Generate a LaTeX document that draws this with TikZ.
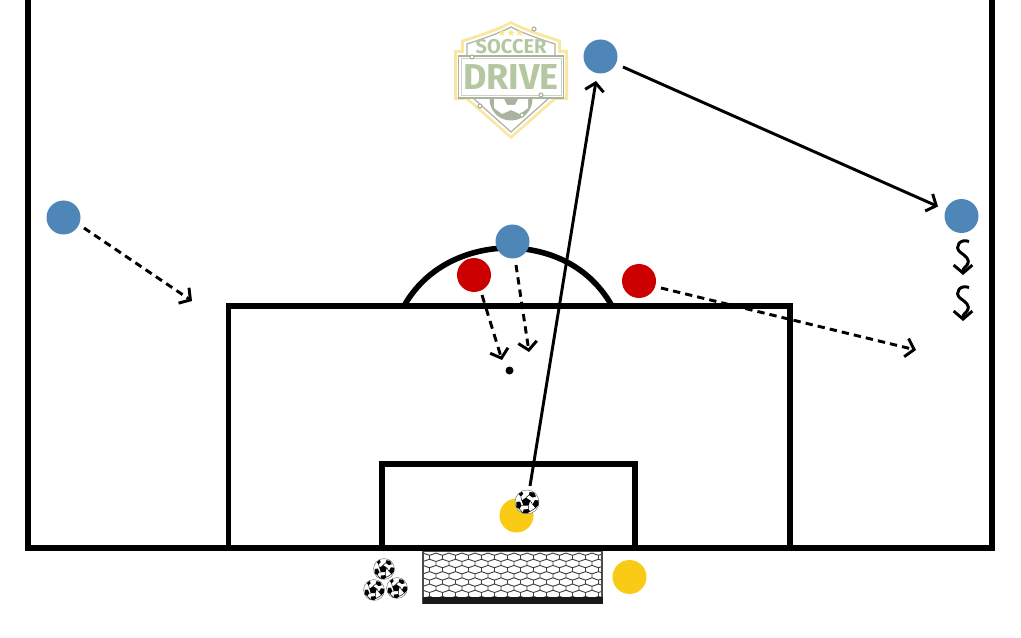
\documentclass[tikz,border=0pt]{standalone}
\usepackage{fontspec}
\setmainfont{Fira Sans}
\usetikzlibrary{arrows.meta,calc}
\definecolor{pblue}{HTML}{4F86B8}
\definecolor{pred}{HTML}{CC0000}
\definecolor{pyel}{HTML}{FACB14}
\definecolor{lgreen}{HTML}{B4C7A0}
\definecolor{lgrey}{HTML}{A9B3A0}
\definecolor{lyel}{HTML}{F9E7A0}
\tikzset{
 x=0.75pt,y=-0.75pt,
 player/.style={circle,minimum size=25.5pt,inner sep=0pt,fill=#1},
 pitch/.style={draw=black,line width=4.2pt,miter limit=10},
 run/.style={line width=2.2pt,-{Straight Barb[length=6pt,width=14pt,line width=2.2pt]}},
 runb/.style={run,dash pattern=on 5.5pt off 3.8pt},
 ballpic/.pic={
   \fill[white,draw=black!55,line width=0.35pt] (0,0) circle (12);
   \fill[black] (-1,-4.5) -- (3.3,-1.4) -- (1.6,3.6) -- (-3.6,3.6) -- (-5.3,-1.4) -- cycle;
   \fill[black] (2.5,-10) -- (7,-9.5) -- (9,-5.5) -- (5.5,-4.5) -- (2,-7) -- cycle;
   \fill[black] (-10.5,0) -- (-7,-0.5) -- (-5.5,3.5) -- (-7.5,7) -- (-10.8,5) -- cycle;
   \fill[black] (8,-2) -- (11.5,-1.5) -- (11.5,3) -- (8.5,6) -- (5.5,2.5) -- cycle;
   \fill[black] (-3.5,7.5) -- (1.5,7) -- (3,9.5) -- (0,11.5) -- (-4,11) -- cycle;
   \fill[black] (-8.5,-8) -- (-5,-10.3) -- (-3.8,-8) -- (-6.2,-5.5) -- cycle;
   \draw[black,line width=0.35pt] (-1,-4.5) -- (2,-7) (3.3,-1.4) -- (5.5,2.5) (1.6,3.6) -- (1.5,7) (-3.6,3.6) -- (-5.5,3.5) (-5.3,-1.4) -- (-6.2,-5.5) (8.5,6) -- (3,9.5) (-7.5,7) -- (-4,11);
 }
}
\begin{document}
\begin{tikzpicture}
\useasboundingbox (0,0) rectangle (1021,638);
% net
\begin{scope}
\clip (423,551) rectangle (602,600);
\draw[draw=black!75,line width=0.7pt]
 \foreach \r in {0,...,8}{ \foreach \c in {-1,...,14}{
   \pgfextra{\pgfmathsetmacro{\xx}{423+13*\c+mod(\r,2)*6.5}\pgfmathsetmacro{\yy}{553+6.2*\r}}
   (\xx,\yy) -- (\xx+3.2,\yy+1.2) -- (\xx+6.5,\yy+1.2+1.1)
   (\xx+6.5,\yy+2.3) -- (\xx+9.8,\yy+1.2) -- (\xx+13,\yy)
   (\xx+6.5,\yy+2.3) -- (\xx+6.5,\yy+6.2)
 }};
\end{scope}
\draw[black!70,line width=0.9pt] (423,551) rectangle (602,603);
\fill[black!90!white] (422.5,597) rectangle (602.5,604);
% logo
\fill[lyel] (511,139) -- (470,103) -- (466,100) -- (454,100) -- (454,50) -- (461,50) -- (461,40) .. controls (478,35) and (498,28) .. (511,21) .. controls (524,28) and (545,35) .. (561,40) -- (561,50) -- (568,50) -- (568,100) -- (556,100) -- (552,103) -- cycle;
\fill[white] (511,135.5) -- (472,101) -- (468,97.5) -- (457,97.5) -- (457,53) -- (464,53) -- (464,42) .. controls (480,37) and (499,31) .. (511,24) .. controls (523,31) and (542,37) .. (558,42) -- (558,53) -- (565,53) -- (565,97.5) -- (554,97.5) -- (550,101) -- cycle;
\draw[lgrey,line width=0.9pt,fill=white] (511,132) -- (473,98) -- (467,54) -- (467,44) .. controls (482,39) and (500,33) .. (511,27) .. controls (522,33) and (540,39) .. (555,44) -- (555,54) -- (549,98) -- cycle;
\begin{scope}
\clip (511,132) -- (473,98) -- (549,98) -- cycle;
\fill[lgrey] (511,99) circle (21.5);
\fill[white] (494,99) -- (504,99) -- (507,105) -- (515,105) -- (518,99) -- (528,99) -- (528,108) -- (520,114) -- (511,110) -- (502,114) -- (494,108) -- cycle;
\end{scope}
\draw[lgrey,line width=0.9pt,fill=white] (458.5,56) rectangle (563.5,98);
\draw[lgrey!60,line width=0.6pt] (461,58.5) rectangle (561,95.5);
\draw[lgrey,line width=0.8pt,fill=white] (472,57) circle (2) (534,29) circle (2) (541,95) circle (2) (480,106) circle (2) (522,115) circle (2);
\node[text=lgreen,inner sep=0pt] (logotop) at (511,47) {\fontsize{15pt}{16pt}\selectfont\bfseries SOCCER};
\node[text=lgreen,inner sep=0pt] (logomain) at (511,77) {\fontsize{27pt}{28pt}\selectfont\bfseries DRIVE};
\node[text=pyel!50,inner sep=0pt] (logostars) at (511,33) {\fontsize{7.5pt}{8pt}\selectfont\fontspec{DejaVu Sans}★★★};
% pitch
\draw[pitch,line width=4.5pt] (28,0) -- (28,547.5) -- (992,547.5) -- (992,0);
\draw[pitch] (228.5,547) -- (228.5,306) -- (790,306) -- (790,547);
\draw[pitch] (382,547) -- (382,464) -- (635,464) -- (635,547);
\draw[pitch] (404,306) .. controls (430,260) and (478,248) .. (508,248) .. controls (540,248) and (586,260) .. (612,306);
% players
\node[player=pblue] (b1) at (63.5,217.5) {};
\node[player=pblue] (b2) at (600.5,56.5) {};
\node[player=pblue] (b3) at (961.5,216) {};
\node[player=pblue] (b4) at (512.5,241.5) {};
\node[player=pred] (r1) at (474,275) {};
\node[player=pred] (r2) at (639,281) {};
\node[player=pyel] (y1) at (516.5,515.5) {};
\node[player=pyel] (y2) at (629.5,577) {};
\node[circle,fill=black,inner sep=0pt,minimum size=6pt] (dot) at (509.5,370.5) {};
% ends
\coordinate (e1s) at (84,228); \coordinate (e1) at (192,301);
\coordinate (e2s) at (623,67); \coordinate (e2) at (938,206.5);
\coordinate (e3s) at (530,486); \coordinate (e3) at (596,81);
\coordinate (e4s) at (482,295); \coordinate (e4) at (502,360);
\coordinate (e5s) at (516,265); \coordinate (e5) at (529,352);
\coordinate (e6s) at (661,288); \coordinate (e6) at (916,350);
\draw[runb] (e1s) -- (e1);
\draw[run] (e2s) -- (e2);
\draw[run] (e3s) -- (e3);
\draw[runb,dash pattern=on 6pt off 4.2pt] (e4s) -- (e4);
\draw[runb] (e5s) -- (e5);
\draw[runb] (e6s) -- (e6);
% wavy runs
\foreach \d/\n in {0/a,46/b}{
 \coordinate (x\n) at (963,275+\d);
 \draw[line width=2.2pt,-{Straight Barb[length=6pt,width=14pt,line width=2.2pt]}] (969,241.5+\d) .. controls (960,238+\d) and (954,247+\d) .. (960,252+\d) .. controls (965,256+\d) and (971,259+\d) .. (967,265+\d) .. controls (965,268+\d) and (963,268+\d) .. (963,270+\d) -- (x\n);
}
% balls
\pic at (527,502) {ballpic};
\pic[scale=0.87] at (384,569) {ballpic};
\pic[scale=0.87] at (374,590) {ballpic};
\pic[scale=0.87] at (397,588) {ballpic};
\end{tikzpicture}
\end{document}
